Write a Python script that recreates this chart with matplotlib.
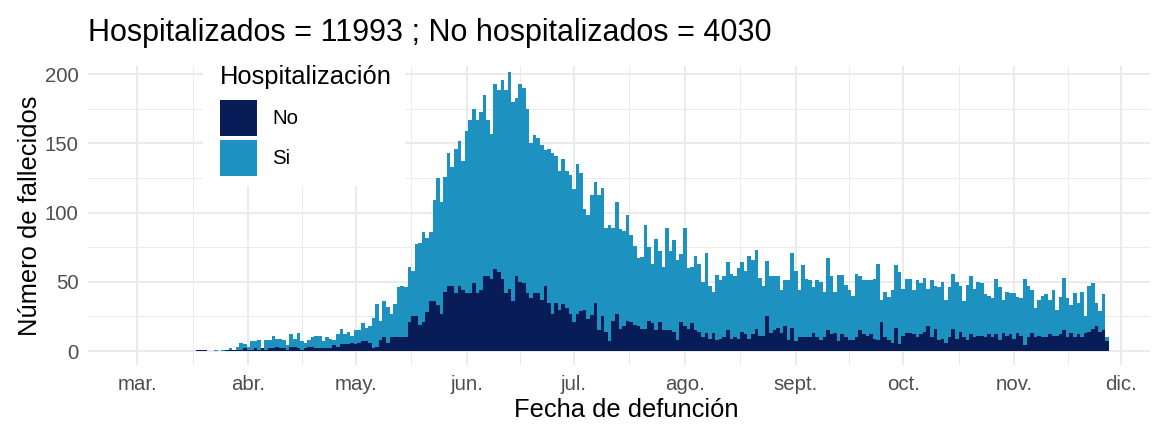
import numpy as np
import matplotlib
matplotlib.use("Agg")
import matplotlib.pyplot as plt
import matplotlib.dates as mdates
from matplotlib.patches import Rectangle

plt.rcParams["font.family"] = ["Liberation Sans", "DejaVu Sans"]

# días con fallecidos: 18 de marzo al 27 de noviembre de 2020
fechas = np.arange("2020-03-18", "2020-11-28", dtype="datetime64[D]")

# fallecidos por día (todos) y cuántos de ellos no fueron hospitalizados
total_diario = [
    1, 1, 1, 0, 0, 1, 0, 1, 1, 2, 1,
    3, 6, 5, 3, 7, 7, 8, 2, 8, 8, 11, 9, 9, 8, 4, 12, 9,
    13, 7, 6, 8, 10, 11, 11, 7, 10, 9, 8, 12, 16, 12, 14, 11, 15, 15, 20, 17,
    18, 24, 34, 22, 36, 32, 27, 34,
    46, 47, 46, 61, 58, 77, 78, 86, 82, 86, 109, 125, 108, 126, 143, 133, 146,
    152, 137, 159, 167, 175, 167, 173, 185, 167,
    157, 193, 189, 196, 189, 202, 180, 183, 193, 190, 175, 150, 156, 154, 149,
    145, 146, 143, 141, 130, 139, 130, 127, 117, 135,
    129, 103, 98, 113, 122, 113, 118, 89, 91, 89, 108, 88, 87, 98, 84,
    76, 67, 68, 91, 75, 63, 81, 72, 61, 89,
    72, 80, 66, 70, 89, 60, 61, 69, 63, 50, 71, 47, 43, 55, 51,
    54, 64, 56, 54, 60, 64, 58, 69, 66, 73,
    53, 47, 65, 54, 54, 54, 44, 51, 51, 71, 58, 44, 62, 52, 51,
    46, 51, 50, 43, 67, 54, 43, 55, 55, 48,
    44, 40, 56, 54, 51, 51, 51, 52, 63, 37, 43, 39, 44, 62, 57,
    45, 52, 52, 44, 51, 49, 53, 45, 51, 47,
    46, 50, 37, 46, 56, 50, 47, 36, 48, 54, 45, 50, 49, 41, 40,
    38, 52, 46, 37, 43, 42, 42, 39, 38, 52,
    47, 44, 31, 37, 40, 41, 37, 44, 30, 39, 53, 38, 33, 42, 35,
    43, 25, 47, 49, 35, 29, 41, 10,
]
no_hospitalizados = [
    1, 1, 1, 0, 0, 0, 0, 0, 1, 1, 1,
    1, 1, 2, 1, 1, 2, 1, 2, 1, 2, 2, 3, 2, 2, 1, 3, 3,
    2, 1, 2, 3, 3, 2, 2, 2, 2, 2, 4, 3, 5, 5, 5, 6, 5, 6, 7, 7,
    6, 2, 3, 8, 10, 6, 10, 10,
    10, 10, 10, 21, 25, 25, 19, 21, 28, 36, 36, 33, 27, 43, 47, 47, 42,
    47, 44, 42, 42, 49, 42, 44, 54, 54,
    52, 59, 57, 52, 42, 45, 36, 54, 50, 49, 42, 38, 42, 42, 37,
    47, 35, 27, 35, 30, 34, 31, 27, 21, 27,
    29, 30, 23, 26, 35, 15, 25, 14, 7, 22, 27, 16, 18, 22, 21,
    19, 18, 16, 16, 22, 20, 15, 21, 15, 15,
    15, 14, 8, 21, 18, 16, 20, 15, 14, 10, 13, 9, 13, 8, 9,
    10, 15, 9, 10, 9, 14, 12, 9, 12, 16,
    11, 11, 25, 13, 15, 17, 13, 18, 8, 17, 7, 10, 10, 10, 10,
    13, 10, 8, 10, 15, 12, 13, 7, 12, 10,
    8, 8, 10, 15, 12, 11, 12, 9, 8, 21, 10, 8, 6, 17, 5,
    11, 13, 13, 12, 10, 12, 14, 18, 10, 16,
    8, 9, 6, 10, 16, 9, 14, 10, 8, 12, 10, 11, 11, 10, 12,
    10, 12, 8, 13, 11, 12, 9, 13, 11, 4,
    10, 13, 10, 11, 10, 10, 12, 11, 11, 12, 15, 10, 13, 10, 12,
    10, 13, 14, 16, 18, 14, 15, 7,
]

meses = np.array(["2020-03-01", "2020-04-01", "2020-05-01", "2020-06-01",
                  "2020-07-01", "2020-08-01", "2020-09-01", "2020-10-01",
                  "2020-11-01", "2020-12-01"], dtype="datetime64[D]")
etiquetas_mes = ["mar.", "abr.", "may.", "jun.", "jul.", "ago.",
                 "sept.", "oct.", "nov.", "dic."]

grupos = ["No", "Si"]
color_no = "#081d58"
color_si = "#1d91c0"
gris_grid = "#ebebeb"
gris_texto = "#4d4d4d"

total = np.array(total_diario)
no = np.array(no_hospitalizados)
si = total - no

x = mdates.date2num(fechas)
bordes = np.append(x - 0.5, x[-1] + 0.5)
x_meses = mdates.date2num(meses)

W, H = 1160, 424
fig = plt.figure(figsize=(W / 100, H / 100), dpi=100)
ax = fig.add_axes([88 / W, 1 - 365 / H, (1150 - 88) / W, (365 - 66) / H])

# barras apiladas: no hospitalizados abajo, hospitalizados encima
ax.stairs(no, bordes, fill=True, color=color_no, zorder=2)
ax.stairs(total, bordes, baseline=no, fill=True, color=color_si, zorder=2)

ax.set_xlim(x_meses[0] - 13.8, x_meses[0] + 283)
ax.set_ylim(-10.1, 206)

ax.set_xticks(x_meses)
ax.set_xticklabels(etiquetas_mes)
ax.set_xticks((x_meses[:-1] + x_meses[1:]) / 2, minor=True)
ax.set_yticks([0, 50, 100, 150, 200])
ax.set_yticks([25, 75, 125, 175], minor=True)

ax.grid(which="major", color=gris_grid, linewidth=1.4)
ax.grid(which="minor", color=gris_grid, linewidth=0.7)
ax.set_axisbelow(True)
for s in ax.spines.values():
    s.set_visible(False)
ax.tick_params(which="both", length=0)
ax.tick_params(axis="x", labelsize=14.7, labelcolor=gris_texto, pad=7)
ax.tick_params(axis="y", labelsize=14.7, labelcolor=gris_texto, pad=7)

ax.set_xlabel("Fecha de defunción", fontsize=18.4, va="center")
ax.xaxis.set_label_coords(0.507, -0.15)
ax.set_ylabel("Número de fallecidos", fontsize=18.4, va="center")
ax.yaxis.set_label_coords(-0.0546, 0.5)

titulo = f"Hospitalizados = {si.sum()} ; No hospitalizados = {no.sum()}"
fig.text(88 / W, 1 - 41 / H, titulo, fontsize=22, ha="left", va="baseline")

# leyenda dentro del panel, con fondo blanco sobre la rejilla
def fig_rect(x0, y0, x1, y1, color):
    fig.add_artist(Rectangle((x0 / W, 1 - y1 / H), (x1 - x0) / W, (y1 - y0) / H,
                             transform=fig.transFigure, facecolor=color,
                             edgecolor="none", zorder=3))

fig_rect(203, 50, 405, 186, "white")
fig.text(220 / W, 1 - 84 / H, "Hospitalización", fontsize=18.4,
         ha="left", va="baseline", zorder=4)
for i, (grupo, color) in enumerate(zip(grupos, [color_no, color_si])):
    y0 = 100 + 40 * i
    fig_rect(220, y0, 257, y0 + 36, color)
    fig.text(272 / W, 1 - (y0 + 19) / H, grupo, fontsize=14.7,
             ha="left", va="center", zorder=4)

fig.savefig("out.png", dpi=100)
